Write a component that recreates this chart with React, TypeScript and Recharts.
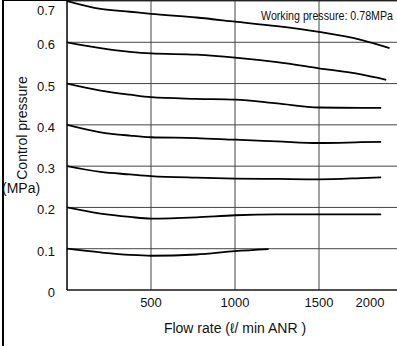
import { LineChart, Line, XAxis, YAxis, CartesianGrid } from "recharts";

const FONT = '"Liberation Sans", Arial, Helvetica, sans-serif';

// flow rate (l/min ANR) sample points, shared by the curves
const flowSteps = [0, 200, 375, 500, 770, 1000, 1250, 1500, 1750];
// last point of each of the six upper curves
const lastFlow = [1920, 1900, 1870, 1870, 1870, 1870];
// the 0.1 MPa curve stops early
const lowFlows = [0, 200, 375, 500, 770, 1000, 1200];

// control pressure (MPa), one array per set point
const curve070 = [0.7, 0.681, 0.674, 0.669, 0.66, 0.65, 0.639, 0.625, 0.606, 0.586];
const curve060 = [0.6, 0.586, 0.577, 0.573, 0.57, 0.563, 0.552, 0.537, 0.522, 0.509];
const curve050 = [0.5, 0.483, 0.473, 0.467, 0.463, 0.461, 0.452, 0.442, 0.441, 0.441];
const curve040 = [0.4, 0.382, 0.374, 0.37, 0.368, 0.364, 0.36, 0.356, 0.358, 0.359];
const curve030 = [0.3, 0.286, 0.28, 0.276, 0.272, 0.27, 0.269, 0.268, 0.271, 0.273];
const curve020 = [0.2, 0.185, 0.177, 0.173, 0.176, 0.181, 0.183, 0.183, 0.183, 0.183];
const curve010 = [0.1, 0.091, 0.085, 0.083, 0.086, 0.094, 0.099];

const xTicks = [500, 1000, 1500, 2000];
const yTicks = [0, 0.1, 0.2, 0.3, 0.4, 0.5, 0.6, 0.7];

const upperCurves = [curve070, curve060, curve050, curve040, curve030, curve020];

const series = [
  ...upperCurves.map((vals, i) =>
    [...flowSteps, lastFlow[i]].map((flow, j) => ({ flow, p: vals[j] }))
  ),
  lowFlows.map((flow, j) => ({ flow, p: curve010[j] })),
];

const FlowTick = ({ x, y, payload }: any) => {
  // the 2000 label sits inside the cropped frame in the original
  const shift = payload.value === 2000 ? -33 : 0;
  return (
    <text
      x={x + shift}
      y={y + 17}
      textAnchor="middle"
      fontSize={13}
      fontFamily={FONT}
      fill="#111"
    >
      {payload.value}
    </text>
  );
};

const PressureTick = ({ x, y, payload }: any) => {
  const v = payload.value;
  const dy = v === 0.7 ? 14 : 7;
  return (
    <text
      x={x - 12}
      y={y + dy}
      textAnchor="end"
      fontSize={13}
      fontFamily={FONT}
      fill="#111"
    >
      {v === 0 ? "0" : v.toFixed(1)}
    </text>
  );
};

const Titles = () => (
  <g fontFamily={FONT} fill="#111">
    <text
      x={27}
      y={128}
      fontSize={14}
      textAnchor="middle"
      transform="rotate(-90 27 128)"
    >
      Control pressure
    </text>
    <text x={2} y={193} fontSize={14}>
      (MPa)
    </text>
    {/* narrow lettering, squeezed horizontally */}
    <text x={0} y={0} fontSize={12.5} transform="translate(261 20) scale(0.855 1)">
      Working pressure: 0.78MPa
    </text>
  </g>
);

export default function App() {
  return (
    <div
      style={{
        position: "fixed",
        top: 0,
        left: 0,
        width: 397,
        height: 346,
        overflow: "hidden",
        background: "#fff",
      }}
    >
      {/* outer frame, cut off on the right and bottom */}
      <div style={{ position: "absolute", left: 2, top: 0, width: 1.5, height: 346, background: "#000" }} />
      <div style={{ position: "absolute", left: 2, top: 0, width: 395, height: 1, background: "#000" }} />
      <LineChart
        width={410}
        height={346}
        margin={{ top: 1, right: 7, bottom: 0, left: 0 }}
        style={{ position: "absolute", left: 0, top: 0 }}
      >
        <CartesianGrid stroke="#444" strokeWidth={1} />
        <XAxis
          dataKey="flow"
          type="number"
          domain={[0, 2000]}
          ticks={xTicks}
          interval={0}
          allowDataOverflow
          tickLine={false}
          tickSize={0}
          tickMargin={0}
          height={56}
          axisLine={{ stroke: "#000", strokeWidth: 1.2 }}
          tick={FlowTick}
          label={{
            value: "Flow rate (\u2113/ min ANR )",
            position: "insideBottom",
            offset: 13,
            fontSize: 14,
            fontFamily: FONT,
            fill: "#111",
          }}
        />
        <YAxis
          type="number"
          domain={[0, 0.7]}
          ticks={yTicks}
          interval={0}
          width={67}
          tickLine={false}
          tickSize={0}
          tickMargin={0}
          axisLine={{ stroke: "#000", strokeWidth: 1.2 }}
          tick={PressureTick}
          label={() => <Titles />}
        />
        {series.map((data, i) => (
          <Line
            key={`curve-${i}`}
            data={data}
            dataKey="p"
            type="monotone"
            stroke="#000"
            strokeWidth={1.8}
            dot={false}
            activeDot={false}
            isAnimationActive={false}
          />
        ))}
      </LineChart>
    </div>
  );
}
